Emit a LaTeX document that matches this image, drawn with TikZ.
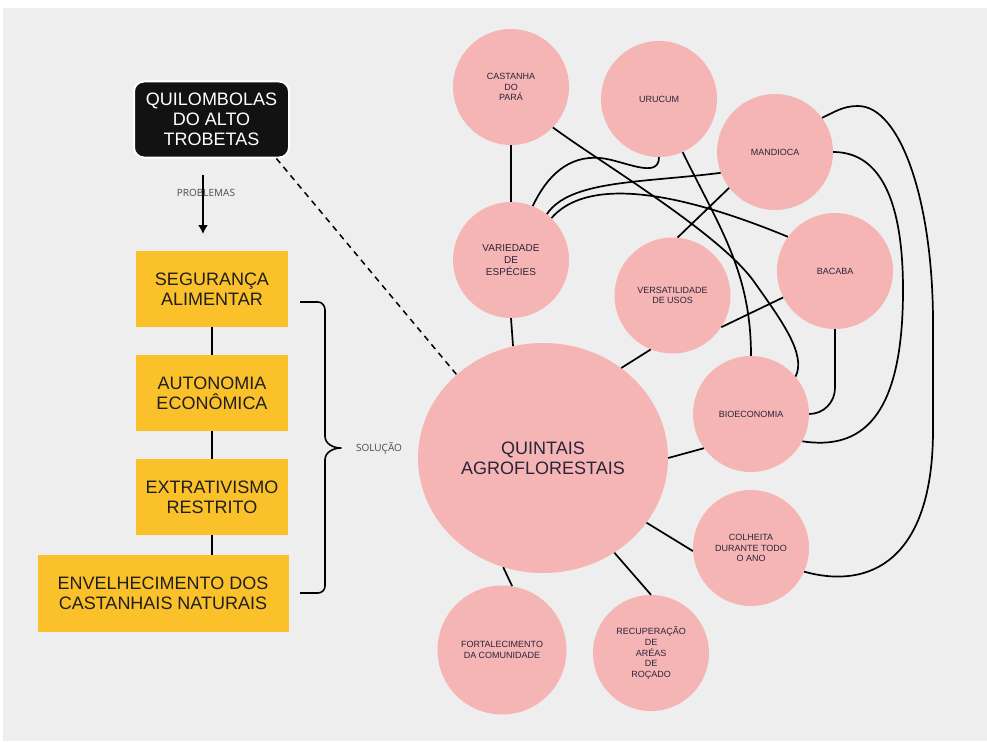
\documentclass[tikz,border=0pt]{standalone}
\usepackage{fontspec}
\setmainfont{Liberation Sans}
\newfontfamily\lblfont{Open Sans}
\usetikzlibrary{arrows.meta,shapes.geometric}
\definecolor{bggray}{HTML}{EDEEED}
\definecolor{cpink}{HTML}{F6B5B5}
\definecolor{cyel}{HTML}{FAC12A}
\definecolor{ctxt}{HTML}{2B2438}
\definecolor{clbl}{HTML}{4A4A4A}
\begin{document}
\begin{tikzpicture}[x=1pt,y=1pt,
  bubble/.style={circle, fill=cpink, minimum size=116pt, inner sep=0pt, align=center, text=ctxt, font=\fontsize{9}{10.6}\selectfont},
  ybox/.style={rectangle, fill=cyel, minimum width=152pt, minimum height=76pt, inner sep=0pt, align=center, text=black!88, font=\fontsize{18}{20}\selectfont},
  link/.style={draw=black, line width=1.7pt},
  lbl/.style={font=\lblfont\fontsize{10}{12}\selectfont, text=clbl, inner sep=0pt}
]
\useasboundingbox (0,0) rectangle (987,-741);
\fill[white] (0,0) rectangle (987,-741);
\fill[bggray] (3,-8) rectangle (987,-741);

% left column
\node[fill=black!93, draw=white, line width=2pt, rounded corners=10pt, minimum width=155pt, minimum height=76pt, inner sep=0pt, text=white, align=center, font=\fontsize{18}{20}\selectfont] (bb) at (211.5,-119.5) {QUILOMBOLAS\\DO ALTO\\TROBETAS};

\node[ybox] (y1) at (212,-289) {SEGURANÇA\\ALIMENTAR};
\node[ybox] (y2) at (212,-393) {AUTONOMIA\\ECONÔMICA};
\node[ybox] (y3) at (212,-497) {EXTRATIVISMO\\RESTRITO};
\node[ybox, minimum width=251pt, minimum height=77pt] (y4) at (163,-593.5) {ENVELHECIMENTO DOS\\CASTANHAIS NATURAIS};

\draw[link, line width=1.5pt] (y1) -- (y2);
\draw[link, line width=1.5pt] (y2) -- (y3);
\draw[link, line width=1.5pt] (y3.south) -- (y3.south |- y4.north);

\coordinate (pa) at (203,-175);
\coordinate (pb) at (203,-234);
\draw[line width=1.6pt, -{Latex[length=9pt,width=10pt]}] (pa) -- (pb);
\node[lbl] (plab) at (206,-193) {PROBLEMAS};

% brace
\draw[line width=1.6pt, line join=round] (300,-302) -- (318,-302) to[out=0,in=90] (325,-310) -- (325,-436) to[out=-90,in=180] (341,-448) to[out=180,in=90] (325,-460) -- (325,-586) to[out=-90,in=0] (318,-593) -- (300,-593);
\node[lbl] (slab) at (379,-448) {SOLUÇÃO};

% right: bubbles
\node[ellipse, fill=cpink, minimum width=250pt, minimum height=230pt, inner sep=0pt, align=center, text=ctxt, font=\fontsize{18}{20}\selectfont] (qui) at (543,-458) {QUINTAIS\\AGROFLORESTAIS};

\node[bubble] (cas) at (511,-87) {CASTANHA\\DO\\PARÁ};
\node[bubble] (uru) at (659,-99) {URUCUM};
\node[bubble] (man) at (775,-152) {MANDIOCA};
\node[bubble, font=\fontsize{10}{12}\selectfont] (var) at (511,-260) {VARIEDADE\\DE\\ESPÉCIES};
\node[bubble] (ver) at (672.5,-295.5) {VERSATILIDADE\\DE USOS};
\node[bubble] (bac) at (835,-271) {BACABA};
\node[bubble] (bio) at (751,-414) {BIOECONOMIA};
\node[bubble] (col) at (751,-548) {COLHEITA\\DURANTE TODO\\O ANO};
\node[bubble, minimum size=129pt] (fort) at (502,-650) {FORTALECIMENTO\\DA COMUNIDADE};
\node[bubble] (rec) at (651,-653) {RECUPERAÇÃO\\DE\\ARÉAS\\DE\\ROÇADO};

% dashed link
\draw[line width=1.5pt, dash pattern=on 6pt off 5pt] (bb.-31) -- (qui.136);

% straight links
\draw[link] (cas) -- (var);
\draw[link] (var.south) -- (qui.105);
\draw[link] (qui.49) -- (ver.248);
\draw[link] (qui.east) -- (bio.216);
\draw[link] (qui.-32) -- (col.183);
\draw[link] (qui.250) -- (fort.81);
\draw[link] (qui.-53) -- (rec.90);
\draw[link] (ver.85) -- (man.218);
\draw[link] (ver.-33) -- (bac.207);

% curved links
\draw[link] (uru.-66) to[out=-64,in=90] (bio.north);
\draw[link] (cas.-44) .. controls (601,-163) and (721,-234) .. (755,-283) .. controls (781,-320) and (806.6,-354) .. (bio.40);
\draw[link] (var.46) .. controls (580,-185) and (650,-180) .. (bac.144);
\draw[link] (var.52) .. controls (570,-180) and (640,-183) .. (man.201);
\draw[link] (var.68) to[out=65,in=175] (600,-158) to[out=-5,in=-90] (uru.-90);
\draw[link] (man.36) to[out=25,in=180] (858,-106) .. controls (900,-106) and (933,-200) .. (933,-323) -- (933,-430) .. controls (933,-560) and (870,-590) .. (col.-24);
\draw[link] (man.east) .. controls (880,-152) and (903,-200) .. (903,-290) .. controls (903,-420) and (860,-450) .. (bio.-28);
\draw[link] (bac.south) -- (835,-388) to[out=-90,in=0] (bio.east);
\end{tikzpicture}
\end{document}
